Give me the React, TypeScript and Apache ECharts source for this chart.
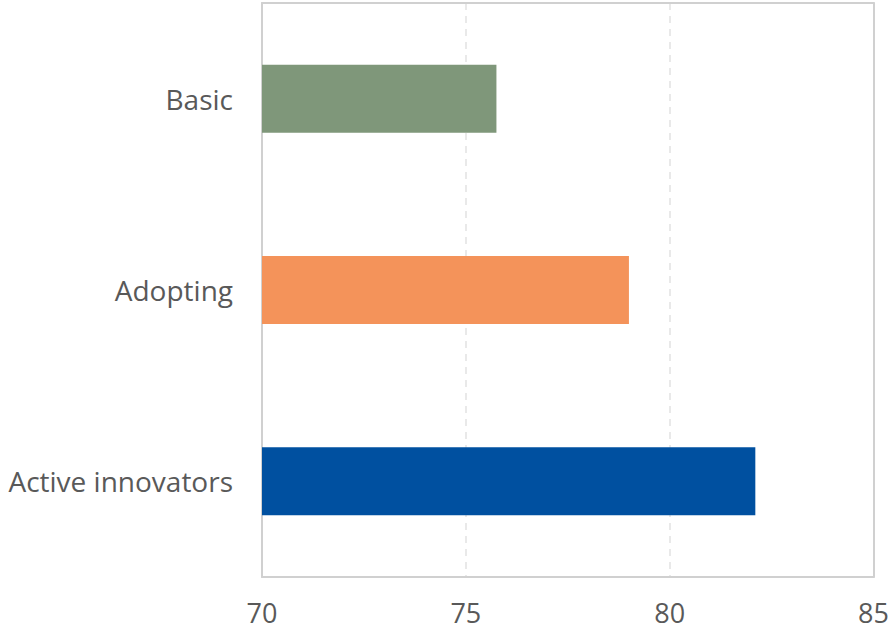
import React, { useEffect, useRef } from "react";
import * as echarts from "echarts";

const categories = ["Active innovators", "Adopting", "Basic"];
const values = [82.1, 79.0, 75.75];
const barColors = ["#0050a0", "#f4935a", "#7f977a"];
const xTicks = [70, 75, 80, 85];

const frameLine = { show: true, lineStyle: { color: "#d0d0d0", width: 2 } };

export default function App() {
  const ref = useRef<HTMLDivElement>(null);
  useEffect(() => {
    if (!ref.current) return;
    const chart = echarts.init(ref.current, null, { renderer: "svg" });
    chart.setOption({
      animation: false,
      grid: {
        left: 262,
        right: 17,
        top: 3,
        bottom: 55,
      },
      xAxis: [
        {
          type: "value",
          min: xTicks[0],
          max: xTicks[xTicks.length - 1],
          interval: 5,
          axisLine: { ...frameLine, onZero: false },
          axisTick: { show: false },
          axisLabel: {
            color: "#595959",
            fontFamily: "Open Sans",
            fontSize: 27,
            lineHeight: 24,
            margin: 23,
          },
          splitLine: {
            show: true,
            lineStyle: { color: "#e2e2e2", type: [7, 6], width: 1.5 },
          },
        },
        {
          type: "value",
          position: "top",
          min: xTicks[0],
          max: xTicks[xTicks.length - 1],
          interval: 5,
          axisLine: { ...frameLine, onZero: false },
          axisTick: { show: false },
          axisLabel: { show: false },
          splitLine: { show: false },
        },
      ],
      yAxis: [
        {
          type: "category",
          data: categories,
          axisLine: { ...frameLine, onZero: false },
          axisTick: { show: false },
          axisLabel: {
            color: "#595959",
            fontFamily: "Open Sans",
            fontSize: 28,
            margin: 29,
          },
        },
        {
          type: "category",
          position: "right",
          data: categories,
          axisLine: { ...frameLine, onZero: false },
          axisTick: { show: false },
          axisLabel: { show: false },
        },
      ],
      series: [
        {
          type: "bar",
          xAxisIndex: 0,
          yAxisIndex: 0,
          data: values.map((v, i) => ({ value: v, itemStyle: { color: barColors[i] } })),
          barWidth: "35.5%",
        },
      ],
    });
    return () => chart.dispose();
  }, []);
  return (
    <div
      ref={ref}
      style={{ position: "absolute", left: 0, top: 0, width: 892, height: 632 }}
    />
  );
}
